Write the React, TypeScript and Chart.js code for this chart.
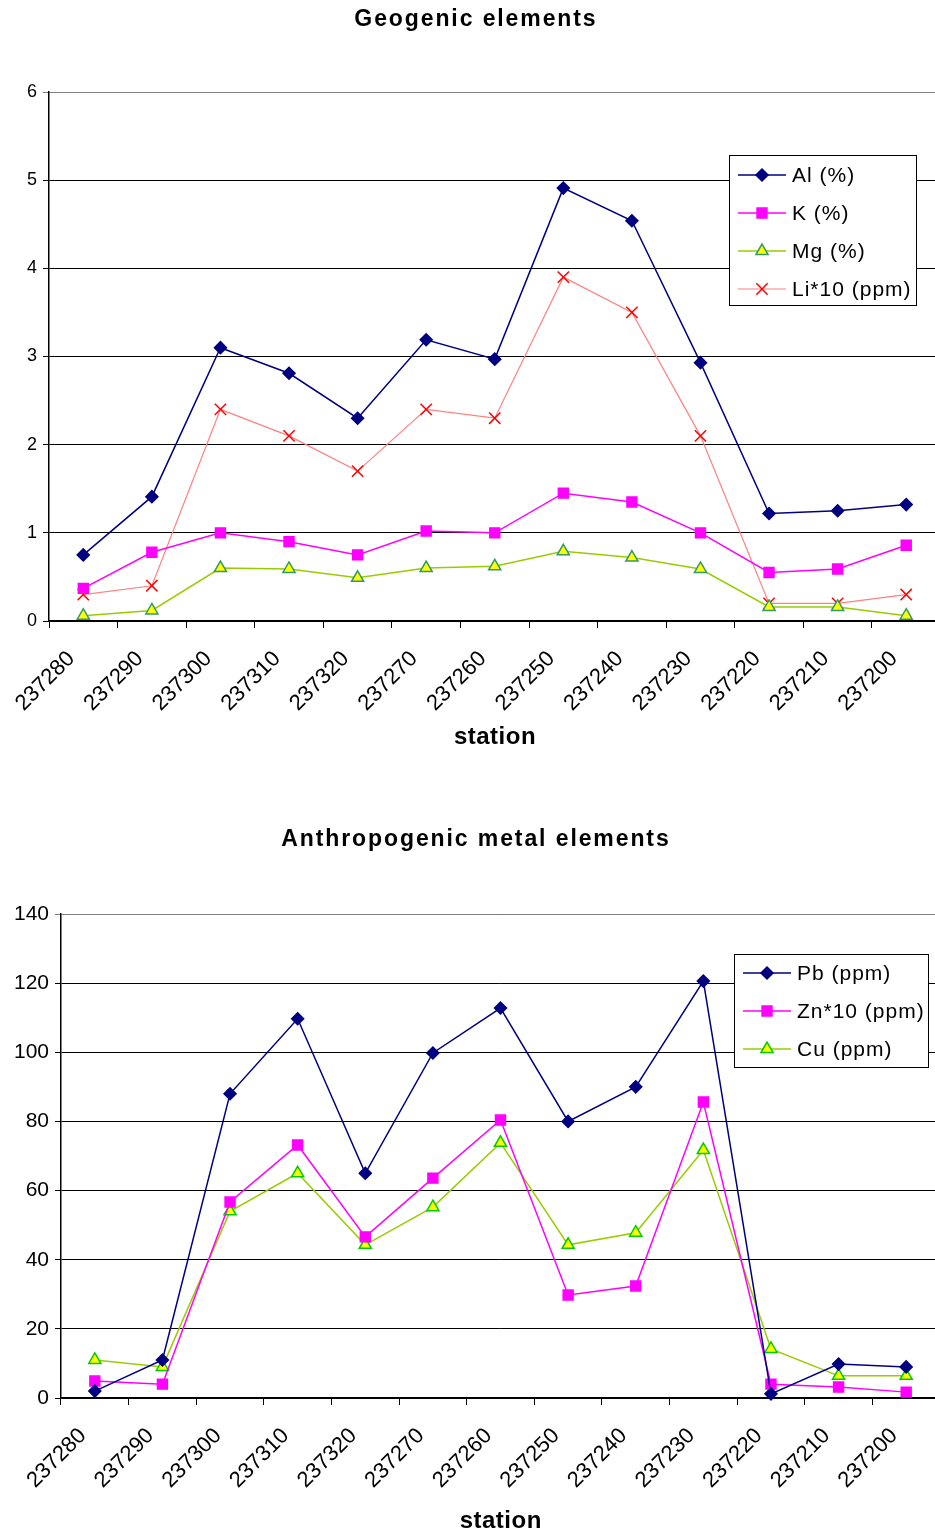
import React, { useEffect, useRef } from 'react';
import { Chart, registerables } from 'chart.js';

Chart.register(...registerables);

const stations = ['237280', '237290', '237300', '237310', '237320', '237270', '237260', '237250', '237240', '237230', '237220', '237210', '237200'];

const alPct = [0.75, 1.41, 3.1, 2.81, 2.3, 3.19, 2.97, 4.91, 4.54, 2.93, 1.22, 1.25, 1.32];
const kPct = [0.37, 0.78, 1.0, 0.9, 0.75, 1.02, 1.0, 1.45, 1.35, 1.0, 0.55, 0.59, 0.86];
const mgPct = [0.06, 0.12, 0.6, 0.59, 0.49, 0.6, 0.62, 0.79, 0.72, 0.59, 0.16, 0.16, 0.06];
const li10Ppm = [0.3, 0.4, 2.4, 2.1, 1.7, 2.4, 2.3, 3.9, 3.5, 2.1, 0.2, 0.2, 0.3];

const pbPpm = [2, 11, 88, 109.7, 65, 99.8, 112.8, 80, 90, 120.6, 1.2, 9.8, 9];
const zn10Ppm = [4.9, 4, 56.7, 73.2, 46.6, 63.6, 80.4, 29.8, 32.4, 85.6, 4, 3.2, 1.7];
const cuPpm = [11, 9, 54, 65, 44.3, 55.2, 73.8, 44.3, 47.8, 71.7, 14.2, 6.4, 6.4];

const geoMax = 6;
const geoStep = 1;
const anthroMax = 140;
const anthroStep = 20;

const FONT = 'Liberation Sans, Arial, Helvetica, sans-serif';

function drawMarker(ctx: CanvasRenderingContext2D, style: string, cx: number, cy: number, r: number, fill: string, stroke: string) {
  ctx.save();
  ctx.fillStyle = fill;
  ctx.strokeStyle = stroke;
  ctx.lineWidth = 1.5;
  ctx.beginPath();
  if (style === 'rectRot') {
    ctx.moveTo(cx, cy - r);
    ctx.lineTo(cx + r, cy);
    ctx.lineTo(cx, cy + r);
    ctx.lineTo(cx - r, cy);
    ctx.closePath();
    ctx.fill();
    ctx.stroke();
  } else if (style === 'rect') {
    const s = r * Math.SQRT1_2;
    ctx.rect(cx - s, cy - s, 2 * s, 2 * s);
    ctx.fill();
    ctx.stroke();
  } else if (style === 'triangle') {
    for (let i = 0; i < 3; i++) {
      const a = (i * 2 * Math.PI) / 3;
      const px = cx + Math.sin(a) * r;
      const py = cy - Math.cos(a) * r;
      if (i === 0) ctx.moveTo(px, py);
      else ctx.lineTo(px, py);
    }
    ctx.closePath();
    ctx.fill();
    ctx.stroke();
  } else if (style === 'crossRot') {
    const o = r * Math.SQRT1_2;
    ctx.moveTo(cx - o, cy - o);
    ctx.lineTo(cx + o, cy + o);
    ctx.moveTo(cx + o, cy - o);
    ctx.lineTo(cx - o, cy + o);
    ctx.stroke();
  }
  ctx.restore();
}

function spacedText(ctx: any, text: string, x: number, y: number, spacing: number) {
  // centred text with extra letter spacing
  ctx.save();
  ctx.letterSpacing = `${spacing}px`;
  const w = ctx.measureText(text).width - spacing;
  ctx.textAlign = 'left';
  ctx.fillText(text, x - w / 2, y);
  ctx.restore();
}

const chartText = {
  id: 'chartText',
  afterDraw(chart: any, _args: any, opts: any) {
    const { ctx, chartArea } = chart;
    ctx.save();
    ctx.fillStyle = '#000';
    ctx.textBaseline = 'middle';
    ctx.font = `bold 23px ${FONT}`;
    spacedText(ctx, opts.title, opts.titleX, opts.titleY, 1.9);
    ctx.font = `bold 24px ${FONT}`;
    spacedText(ctx, opts.xTitle, (chartArea.left + chartArea.right) / 2, opts.xTitleY, 0.5);
    ctx.restore();
  },
};

const boxLegend = {
  id: 'boxLegend',
  afterDraw(chart: any, _args: any, opts: any) {
    const { ctx } = chart;
    const { x, y, w, h, firstRow, rowH } = opts;
    ctx.save();
    ctx.fillStyle = '#ffffff';
    ctx.fillRect(x, y, w, h);
    ctx.strokeStyle = '#000000';
    ctx.lineWidth = 1;
    ctx.strokeRect(x + 0.5, y + 0.5, w, h);
    chart.data.datasets.forEach((ds: any, i: number) => {
      const cy = y + firstRow + i * rowH;
      ctx.strokeStyle = ds.borderColor;
      ctx.lineWidth = ds.borderWidth;
      ctx.beginPath();
      ctx.moveTo(x + 9, cy);
      ctx.lineTo(x + 57, cy);
      ctx.stroke();
      drawMarker(ctx, ds.pointStyle, x + 33, cy, ds.pointRadius, ds.pointBackgroundColor, ds.pointBorderColor);
      ctx.fillStyle = '#000';
      ctx.font = `21px ${FONT}`;
      ctx.textAlign = 'left';
      ctx.textBaseline = 'middle';
      (ctx as any).letterSpacing = '1px';
      ctx.fillText(ds.label, x + 63, cy + 1);
      (ctx as any).letterSpacing = '0px';
    });
    ctx.restore();
  },
};

type SeriesDef = {
  label: string;
  data: number[];
  color: string;
  width: number;
  style: string;
  radius: number;
  fill: string;
  stroke: string;
};

function makeConfig(opts: {
  title: string;
  titleY: number;
  xTitleY: number;
  series: SeriesDef[];
  max: number;
  step: number;
  yWidth: number;
  xHeight: number;
  padRight: number;
  padTop: number;
  yFont: number;
  legend: any;
}): any {
  return {
    type: 'line',
    data: {
      labels: stations,
      datasets: opts.series.map((s) => ({
        label: s.label,
        data: s.data,
        borderColor: s.color,
        backgroundColor: s.color,
        borderWidth: s.width,
        pointStyle: s.style,
        pointRadius: s.radius,
        pointHoverRadius: s.radius,
        pointBackgroundColor: s.fill,
        pointBorderColor: s.stroke,
        pointBorderWidth: 1.5,
        tension: 0,
        fill: false,
        clip: false,
      })),
    },
    options: {
      animation: false,
      responsive: false,
      maintainAspectRatio: false,
      layout: { padding: { left: 0, right: opts.padRight, top: opts.padTop, bottom: 0 } },
      plugins: {
        legend: { display: false },
        tooltip: { enabled: false },
        title: { display: false },
        boxLegend: opts.legend,
        chartText: { title: opts.title, titleX: 475, titleY: opts.titleY, xTitle: 'station', xTitleY: opts.xTitleY },
      },
      scales: {
        x: {
          type: 'category',
          offset: true,
          afterFit: (scale: any) => {
            scale.height = opts.xHeight;
          },
          grid: {
            display: true,
            offset: true,
            drawOnChartArea: false,
            drawTicks: true,
            tickLength: 7,
            color: '#000',
            lineWidth: 1,
          },
          border: { display: true, color: '#000', width: 1.5 },
          ticks: {
            autoSkip: false,
            minRotation: 45,
            maxRotation: 45,
            color: '#000',
            padding: 18,
            labelOffset: -12,
            font: { family: FONT, size: 22 },
          },
          title: { display: false },
        },
        y: {
          min: 0,
          max: opts.max,
          afterFit: (scale: any) => {
            scale.width = opts.yWidth;
          },
          grid: {
            display: true,
            drawOnChartArea: true,
            drawTicks: true,
            tickLength: 6,
            color: (c: any) => (c.tick && c.tick.value === opts.max ? '#808080' : '#000'),
            lineWidth: 1,
          },
          border: { display: true, color: '#000', width: 1.5 },
          ticks: {
            stepSize: opts.step,
            color: '#000',
            padding: 6,
            font: { family: FONT, size: opts.yFont },
          },
        },
      },
    },
    plugins: [boxLegend, chartText],
  };
}

function LineChart({ config, width, height }: { config: any; width: number; height: number }) {
  const ref = useRef<HTMLCanvasElement | null>(null);
  useEffect(() => {
    if (!ref.current) return;
    const chart = new Chart(ref.current, config);
    return () => chart.destroy();
  }, [config]);
  return <canvas ref={ref} width={width} height={height} style={{ display: 'block', width, height }} />;
}

const geoConfig = makeConfig({
  title: 'Geogenic elements',
  titleY: 20,
  xTitleY: 737,
  series: [
    { label: 'Al (%)', data: alPct, color: '#000080', width: 1.5, style: 'rectRot', radius: 6, fill: '#000080', stroke: '#000080' },
    { label: 'K (%)', data: kPct, color: '#FF00FF', width: 1.5, style: 'rect', radius: 7, fill: '#FF00FF', stroke: '#FF00FF' },
    { label: 'Mg (%)', data: mgPct, color: '#99CC00', width: 1.5, style: 'triangle', radius: 7, fill: '#FFFF00', stroke: '#339966' },
    { label: 'Li*10 (ppm)', data: li10Ppm, color: '#FF8080', width: 1.2, style: 'crossRot', radius: 8, fill: '#FF0000', stroke: '#FF0000' },
  ],
  max: geoMax,
  step: geoStep,
  yWidth: 49,
  xHeight: 159,
  padRight: 7,
  padTop: 92,
  yFont: 18,
  legend: { x: 729, y: 155, w: 187, h: 150, firstRow: 20, rowH: 38 },
});

const anthroConfig = makeConfig({
  title: 'Anthropogenic metal elements',
  titleY: 60,
  xTitleY: 741,
  series: [
    { label: 'Pb (ppm)', data: pbPpm, color: '#000080', width: 1.5, style: 'rectRot', radius: 6, fill: '#000080', stroke: '#000080' },
    { label: 'Zn*10 (ppm)', data: zn10Ppm, color: '#FF00FF', width: 1.5, style: 'rect', radius: 7, fill: '#FF00FF', stroke: '#FF00FF' },
    { label: 'Cu (ppm)', data: cuPpm, color: '#99CC00', width: 1.5, style: 'triangle', radius: 7, fill: '#FFFF00', stroke: '#00CC00' },
  ],
  max: anthroMax,
  step: anthroStep,
  yWidth: 61,
  xHeight: 137,
  padRight: 10,
  padTop: 134,
  yFont: 21,
  legend: { x: 734, y: 174, w: 194, h: 113, firstRow: 19, rowH: 38 },
});

export default function App() {
  return (
    <div style={{ position: 'absolute', left: 0, top: 0, width: 935, height: 1535, overflow: 'hidden', background: '#fff' }}>
      <LineChart config={geoConfig} width={950} height={780} />
      <LineChart config={anthroConfig} width={950} height={755} />
    </div>
  );
}
